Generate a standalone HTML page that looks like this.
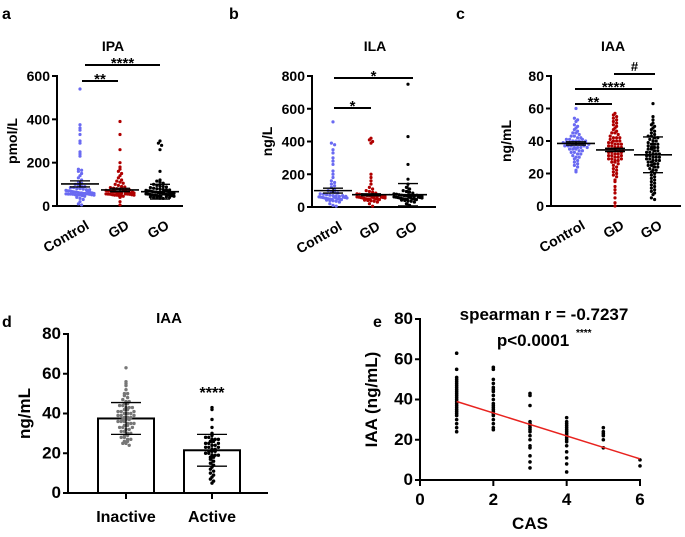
<!DOCTYPE html>
<html><head><meta charset="utf-8"><style>
body{margin:0;background:#fff}
svg{display:block;font-family:"Liberation Sans",Arial,sans-serif;font-weight:bold}
</style></head><body>
<svg id="fig" width="685" height="537" viewBox="0 0 685 537" xmlns="http://www.w3.org/2000/svg"></svg>
<script>
// ---------- data ----------
const groups = ["Control","GD","GO"];
const ipaCtrl = [540,375,360,350,330,300,290,250,240,230,170,165,160,150,140,130,120,110,105,100,95,90,90,85,85,80,80,78,75,72,70,70,68,66,65,64,62,60,60,58,58,56,55,55,54,52,50,50,48,45,40,35,30,20,10,5,75,70,65,62,60,58,56,54,52,50];
const ipaGD = [390,330,260,200,180,170,160,150,140,130,120,115,110,105,100,95,90,88,85,82,80,78,76,75,74,72,70,70,68,66,65,64,62,60,60,58,56,55,54,52,50,50,48,46,45,40,20,5,70,68,65,62,60,58,56,55,54,52,50,65,60];
const ipaGO = [300,290,280,260,160,120,115,110,105,100,95,92,90,88,85,82,80,78,76,75,74,72,70,70,68,66,65,64,62,60,60,58,56,55,54,52,50,50,48,46,45,42,40,38,36,35,70,68,65,62,60,58,56,55,54,52,50,48,45,42,40];
const ipaMean = [102,74,66];
const ipaErr = [14,8,34];
const ilaCtrl = [520,390,380,350,330,300,280,260,220,200,180,160,150,140,130,120,110,100,95,90,85,80,78,75,72,70,68,65,62,60,58,55,52,50,48,45,42,40,38,35,30,20,10,5,70,65,60,55,50,48,45,60,58,55];
const ilaGD = [420,410,400,390,200,180,160,140,120,110,100,95,90,85,80,78,75,72,70,68,65,62,60,58,55,52,50,48,45,42,40,38,35,30,20,5,70,65,60,55,50,48,45,60,58,55,72,68,64];
const ilaGO = [750,430,260,170,140,120,110,100,95,90,85,80,78,75,72,70,68,65,62,60,58,55,52,50,48,45,42,40,38,35,30,20,10,70,65,60,55,50,48,45,60,58,55,72,68,64];
const ilaMean = [100,75,75];
const ilaErr = [15,6,68];
const iaaCtrl = [60,54,53,52,50,49,48,47,46,45,45,44,43,43,42,42,41,41,40,40,40,39,39,39,38,38,38,38,37,37,37,36,36,36,35,35,35,34,34,33,33,32,32,31,30,30,29,28,27,26,25,24,22,21,41,39,37,36,40,38];
const iaaGD = [57,56,55,54,53,52,51,50,49,48,47,46,45,45,44,43,42,42,41,40,40,39,39,38,38,37,37,36,36,35,35,35,34,34,33,33,32,32,31,31,30,30,29,29,28,28,27,27,26,25,24,23,22,21,20,19,18,16,15,12,10,8,5,2,0,36,34,38,33,31,29,40,42];
const iaaGO = [63,55,53,51,50,49,48,47,46,45,44,43,43,42,42,41,40,40,39,38,38,37,36,36,35,35,34,33,33,32,32,31,31,30,30,29,29,28,28,27,27,26,25,25,24,23,22,22,21,20,19,18,17,16,15,14,13,12,11,10,9,8,7,5,4,32,30,34,28,26,36,38,24];
const iaaMean = [38.5,34.5,31.5];
const iaaErr = [1,1,11];
const activity = ["Inactive","Active"];
const inactiveVals = [63,56,55,54,52,50,50,49,48,47,46,46,45,45,44,44,43,43,42,42,41,41,40,40,40,39,39,38,38,38,37,37,36,36,36,35,35,34,34,33,33,32,32,31,31,30,30,29,29,28,28,27,27,26,26,25,25,24,41,39,37,35,43,33];
const activeVals = [43,42,37,33,30,29,28,28,27,27,26,26,25,25,24,24,23,23,22,22,21,21,20,20,19,19,18,18,17,16,15,14,13,12,11,10,9,8,7,6,5,27,25,23,21,19];
const barMeans = [37.5,21.5];
const barSD = [8,8];
const casX = [1,1,1,1,1,1,1,1,1,1,1,1,1,1,1,1,1,1,1,1,1,1,1,1,1,1,2,2,2,2,2,2,2,2,2,2,2,2,2,2,2,2,2,2,2,2,3,3,3,3,3,3,3,3,3,3,3,3,3,3,3,3,4,4,4,4,4,4,4,4,4,4,4,4,4,4,4,4,4,5,5,5,5,5,5,6,6];
const casY = [63,55,51,50,49,48,47,46,45,44,43,42,41,40,39,38,37,36,35,34,33,32,30,28,26,24,56,55,50,48,46,45,44,42,40,38,37,36,35,34,33,32,30,28,26,25,43,42,37,29,28,27,26,25,24,22,20,17,16,12,9,6,31,29,28,27,26,25,24,23,22,21,20,19,17,14,11,8,4,26,24,23,22,20,16,10,7];
const fitSlope = -5.7;
const fitIntercept = 44.7;

// ---------- helpers ----------
const svg = document.getElementById('fig');
const NS = "http://www.w3.org/2000/svg";
function mk(tag, attrs, parent, text){
  const e = document.createElementNS(NS, tag);
  for (const k in attrs) e.setAttribute(k, attrs[k]);
  if (text !== undefined) e.textContent = text;
  (parent || svg).appendChild(e);
  return e;
}
function line(g,x1,y1,x2,y2,w,c){return mk('line',{x1,y1,x2,y2,stroke:c||'#000','stroke-width':w||2},g);}
function txt(g,x,y,s,size,anchor,extra){const a=Object.assign({x,y,'font-size':size,'text-anchor':anchor||'middle'},extra||{});return mk('text',a,g,s);}

function yAxis(g,ax,ys,ticks,size){
  line(g,ax,ys(ticks[0])+1,ax,ys(ticks[ticks.length-1])-1,2);
  ticks.forEach(t=>{
    const tk=line(g,ax-5,ys(t),ax,ys(t),2);
    
    
    const l=txt(g,ax-7,ys(t)+5,String(t),size||14,'end');
    
    
  });
}
function swarm(g,cx,vals,ys,color,r,step,maxW,name){
  const bins={};
  vals.forEach(v=>{const b=Math.round(ys(v)/3.2);(bins[b]=bins[b]||[]).push(v);});
  Object.keys(bins).forEach(b=>{
    const arr=bins[b];const n=arr.length;
    const st=Math.min(step,(2*maxW)/Math.max(n-1,1));
    arr.forEach((v,j)=>{
      const off=(j-(n-1)/2)*st;
      const c=mk('circle',{cx:cx+off,cy:ys(v),r:r,fill:color},g);
      
      
    });
  });
}

// ---------- dot panels a-c ----------
function dotPanel(opt){
  const g=mk('g',{});
  
  
  const ys=v=>opt.y0+(opt.y1-opt.y0)*(v/opt.max);
  const pl=txt(g,opt.letterX,19,opt.letter,16,'start');
  
  const tt=txt(g,opt.titleX,51,opt.title,14);
  
  const yt=txt(g,0,0,opt.ylabel,14,'middle',{transform:`translate(${opt.ax-40},${(opt.y0+opt.y1)/2}) rotate(-90)`});
  
  yAxis(g,opt.ax,ys,opt.ticks);
  line(g,opt.ax-1,opt.y0,opt.axEnd,opt.y0,2);
  const colors=['#6a6af2','#b00000','#000'];
  opt.data.forEach((vals,i)=>{
    const cx=opt.cx[i];
    swarm(g,cx,vals,ys,colors[i],1.6,3.2,14,'point-'+groups[i].toLowerCase());
    const m=line(g,cx-19,ys(opt.mean[i]),cx+19,ys(opt.mean[i]),1.6);
    
    line(g,cx,ys(opt.mean[i]-opt.err[i]),cx,ys(opt.mean[i]+opt.err[i]),1.3);
    line(g,cx-10,ys(opt.mean[i]+opt.err[i]),cx+10,ys(opt.mean[i]+opt.err[i]),1.3);
    line(g,cx-10,ys(opt.mean[i]-opt.err[i]),cx+10,ys(opt.mean[i]-opt.err[i]),1.3);
    const xl=txt(g,0,0,groups[i],14,'end',{transform:`translate(${cx+10},${opt.y0+22}) rotate(-30)`});
    
  });
  opt.sig.forEach(s=>{
    const b=line(g,s[0],s[2],s[1],s[2],2);
    
    const st=txt(g,(s[0]+s[1])/2,s[2]-1+(s[3]==='#'?-2:4),s[3],s[3]==='#'?13:15);
    
  });
}
dotPanel({name:'panel-a-ipa',letter:'a',letterX:2,title:'IPA',titleX:113,ylabel:'pmol/L',ax:57,axEnd:183,y0:206,y1:76,max:600,ticks:[0,200,400,600],cx:[80,120,160],data:[ipaCtrl,ipaGD,ipaGO],mean:ipaMean,err:ipaErr,sig:[[82,118,81,'**'],[85,160,65,'****']]});
dotPanel({name:'panel-b-ila',letter:'b',letterX:229,title:'ILA',titleX:375,ylabel:'ng/L',ax:312,axEnd:436,y0:207,y1:76,max:800,ticks:[0,200,400,600,800],cx:[333,371,408],data:[ilaCtrl,ilaGD,ilaGO],mean:ilaMean,err:ilaErr,sig:[[334,371,108,'*'],[334,413,78,'*']]});
dotPanel({name:'panel-c-iaa',letter:'c',letterX:456,title:'IAA',titleX:613,ylabel:'ng/mL',ax:551,axEnd:681,y0:206,y1:76,max:80,ticks:[0,20,40,60,80],cx:[576,615,653],data:[iaaCtrl,iaaGD,iaaGO],mean:iaaMean,err:iaaErr,sig:[[575,612,104,'**'],[575,652,89,'****'],[614,655,74,'#']]});

// ---------- panel d ----------
(function(){
  const g=mk('g',{});
  
  
  const y0=493,y1=334,ax=68;
  const ys=v=>y0+(y1-y0)*(v/80);
  txt(g,2,327,'d',16,'start');
  const tt=txt(g,169,323,'IAA',15);
  
  const yt=txt(g,0,0,'ng/mL',17,'middle',{transform:`translate(${ax-38},${(y0+y1)/2}) rotate(-90)`});
  
  yAxis(g,ax,ys,[0,20,40,60,80],17);
  const cxs=[126,212];
  const vals=[inactiveVals,activeVals];
  cxs.forEach((cx,i)=>{
    const b=mk('rect',{x:cx-28,y:ys(barMeans[i]),width:56,height:y0-ys(barMeans[i]),fill:'#fff',stroke:'#000','stroke-width':2},g);
    
    
    swarm(g,cx,vals[i],ys,i?'#000':'#777',1.7,3.2,11,'point-'+activity[i].toLowerCase());
    line(g,cx,ys(barMeans[i]-barSD[i]),cx,ys(barMeans[i]+barSD[i]),1.3);
    line(g,cx-15,ys(barMeans[i]+barSD[i]),cx+15,ys(barMeans[i]+barSD[i]),1.3);
    line(g,cx-15,ys(barMeans[i]-barSD[i]),cx+15,ys(barMeans[i]-barSD[i]),1.3);
    line(g,cx,y0,cx,y0+6,2);
    const xl=txt(g,cx,y0+29,activity[i],16);
    
  });
  line(g,ax-1,y0,268,y0,2);
  const s=txt(g,212,398,'****',16);
  
})();

// ---------- panel e ----------
(function(){
  const g=mk('g',{});
  
  
  const y0=480,y1=319,ax=420;
  const ys=v=>y0+(y1-y0)*(v/80);
  const xs=v=>ax+v*(220/6);
  txt(g,373,327,'e',16,'start');
  yAxis(g,ax,ys,[0,20,40,60,80],17);
  line(g,ax-1,y0,xs(6)+1,y0,2);
  [0,2,4,6].forEach(t=>{
    line(g,xs(t),y0,xs(t),y0+6,2);
    const l=txt(g,xs(t),y0+25,String(t),17);
    
  });
  const xt=txt(g,xs(3),529,'CAS',17);
  
  const yt=txt(g,0,0,'IAA (ng/mL)',17,'middle',{transform:`translate(${ax-43},${(y0+y1)/2}) rotate(-90)`});
  
  casX.forEach((x,i)=>{
    const c=mk('circle',{cx:xs(x),cy:ys(casY[i]),r:1.8,fill:'#000'},g);
    
    
  });
  const f=line(g,xs(1),ys(fitIntercept+fitSlope*1),xs(6),ys(fitIntercept+fitSlope*6),1.5,'#e8231f');
  
  const a=txt(g,544,320,'spearman r = -0.7237',17);
  
  const p=txt(g,533,346,'p<0.0001',17);
  
  txt(g,576,336,'****',10,'start');
})();
</script>
</body></html>
